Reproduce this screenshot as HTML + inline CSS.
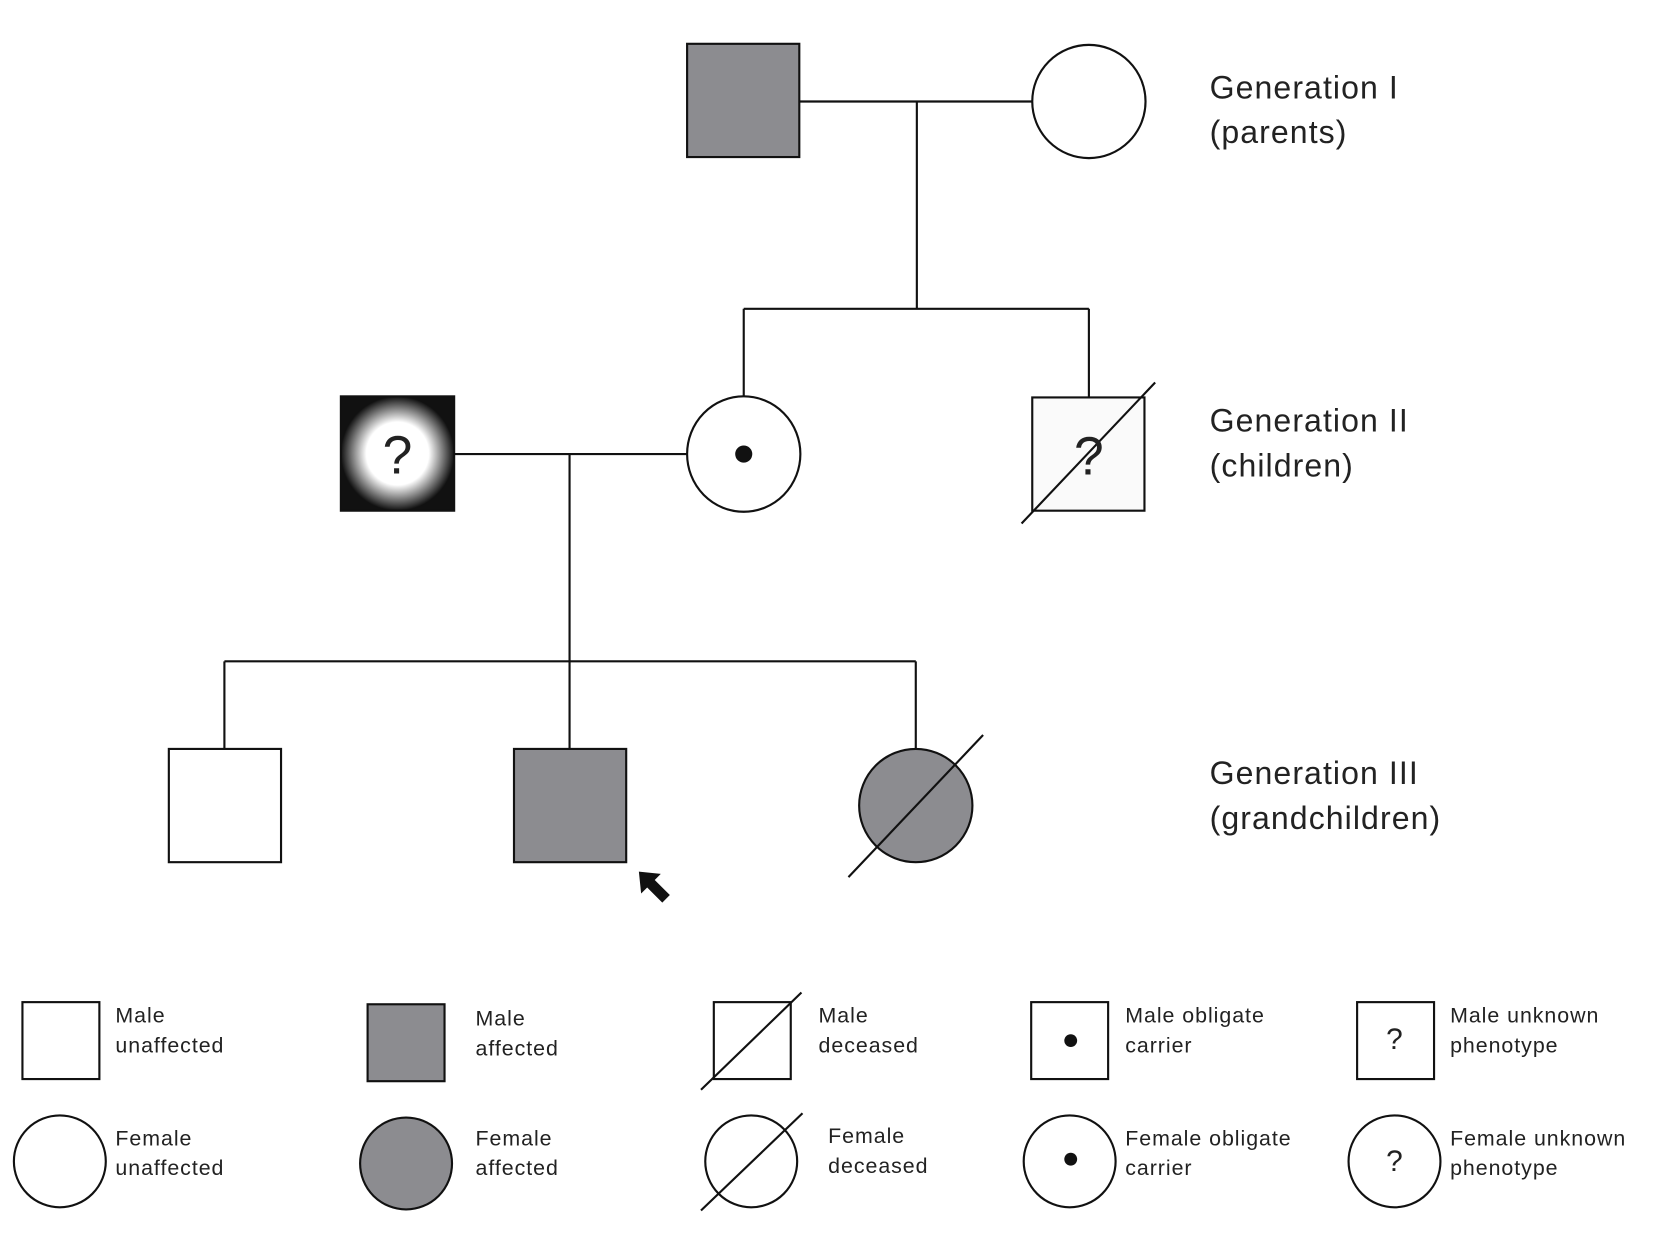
<!DOCTYPE html>
<html><head><meta charset="utf-8"><style>
html,body{margin:0;padding:0;background:#fff;}
svg{display:block;}
text{font-family:"Liberation Sans",sans-serif;fill:#222;}
</style></head><body>
<svg width="1667" height="1250" viewBox="0 0 1560 1170" preserveAspectRatio="none" xmlns="http://www.w3.org/2000/svg">
<defs>
<radialGradient id="g1" cx="50%" cy="50%" r="50%">
<stop offset="0.55" stop-color="#fff"/><stop offset="1" stop-color="#111"/>
</radialGradient>
</defs>
<g stroke="#111" stroke-width="2" fill="none">
<rect x="643" y="41" width="105" height="106" fill="#8c8c90"/>
<circle cx="1019" cy="95" r="53" fill="#fff"/>
<line x1="748" y1="95" x2="966" y2="95"/>
<line x1="858" y1="95" x2="858" y2="289"/>
<line x1="696" y1="289" x2="1019" y2="289"/>
<line x1="696" y1="289" x2="696" y2="372"/>
<line x1="1019" y1="289" x2="1019" y2="372"/>
<rect x="319" y="371" width="106" height="107" fill="url(#g1)" stroke="#111"/>
<ellipse cx="696" cy="425" rx="53" ry="54" fill="#fff"/>
<rect x="966" y="372" width="105" height="106" fill="#fafafa"/>
<line x1="956" y1="490" x2="1081" y2="358"/>
<line x1="425" y1="425" x2="643" y2="425"/>
<line x1="533" y1="425" x2="533" y2="619"/>
<line x1="210" y1="619" x2="857" y2="619"/>
<line x1="210" y1="619" x2="210" y2="701"/>
<line x1="533" y1="619" x2="533" y2="701"/>
<line x1="857" y1="619" x2="857" y2="701"/>
<rect x="158" y="701" width="105" height="106" fill="#fff"/>
<rect x="481" y="701" width="105" height="106" fill="#8c8c90"/>
<circle cx="857" cy="754" r="53" fill="#8c8c90"/>
<line x1="794" y1="821" x2="920" y2="688"/>
</g>
<circle cx="696" cy="425" r="8" fill="#111"/>
<text x="372" y="443" font-size="50" text-anchor="middle" fill="#111">?</text>
<text x="1019" y="444" font-size="50" text-anchor="middle" fill="#111">?</text>
<g transform="translate(612,830) rotate(-135)">
<polygon points="-16,-5 4,-5 4,-13 20,0 4,13 4,5 -16,5" fill="#111"/>
</g>
<g font-size="30" letter-spacing="1">
<text x="1132" y="92">Generation I</text><text x="1132" y="134">(parents)</text>
<text x="1132" y="404">Generation II</text><text x="1132" y="446">(children)</text>
<text x="1132" y="734">Generation III</text><text x="1132" y="776">(grandchildren)</text>
</g>
<g stroke="#111" stroke-width="2" fill="#fff">
<rect x="21" y="938" width="72" height="72"/>
<rect x="344" y="940" width="72" height="72" fill="#8c8c90"/>
<rect x="668" y="938" width="72" height="72"/>
<line x1="656" y1="1020" x2="750" y2="929"/>
<rect x="965" y="938" width="72" height="72"/>
<rect x="1270" y="938" width="72" height="72"/>
<ellipse cx="56" cy="1087" rx="43" ry="43"/>
<ellipse cx="380" cy="1089" rx="43" ry="43" fill="#8c8c90"/>
<ellipse cx="703" cy="1087" rx="43" ry="43"/>
<line x1="656" y1="1133" x2="751" y2="1042"/>
<ellipse cx="1001" cy="1087" rx="43" ry="43"/>
<ellipse cx="1305" cy="1087" rx="43" ry="43"/>
</g>
<circle cx="1002" cy="974" r="6" fill="#111"/>
<circle cx="1002" cy="1085" r="6" fill="#111"/>
<text x="1305" y="982" font-size="28" text-anchor="middle" fill="#111">?</text>
<text x="1305" y="1096" font-size="28" text-anchor="middle" fill="#111">?</text>
<g font-size="20" letter-spacing="0.9">
<text x="108" y="957">Male</text><text x="108" y="985">unaffected</text>
<text x="108" y="1072">Female</text><text x="108" y="1100">unaffected</text>
<text x="445" y="960">Male</text><text x="445" y="988">affected</text>
<text x="445" y="1072">Female</text><text x="445" y="1100">affected</text>
<text x="766" y="957">Male</text><text x="766" y="985">deceased</text>
<text x="775" y="1070">Female</text><text x="775" y="1098">deceased</text>
<text x="1053" y="957">Male obligate</text><text x="1053" y="985">carrier</text>
<text x="1053" y="1072">Female obligate</text><text x="1053" y="1100">carrier</text>
<text x="1357" y="957">Male unknown</text><text x="1357" y="985">phenotype</text>
<text x="1357" y="1072">Female unknown</text><text x="1357" y="1100">phenotype</text>
</g>
</svg>
</body></html>
